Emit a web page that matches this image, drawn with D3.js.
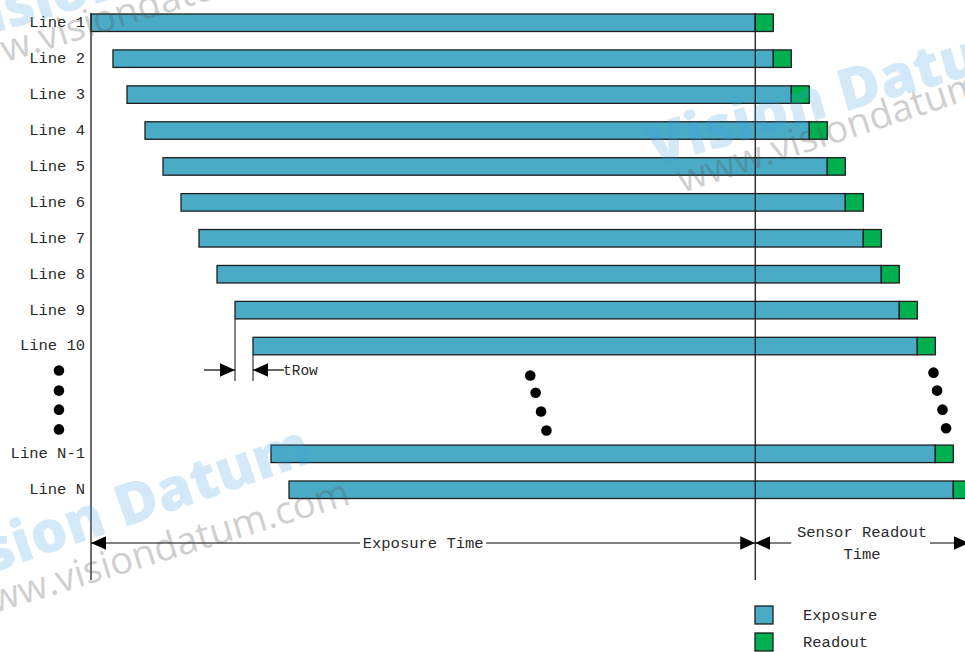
<!DOCTYPE html>
<html>
<head>
<meta charset="utf-8">
<script src="https://cdn.jsdelivr.net/npm/d3@7"></script>
<style>
  body { margin: 0; background: #fff; }
  svg { display: block; }
</style>
</head>
<body>
<svg id="chart"></svg>
<script>
// rows of the rolling shutter diagram (time unit = 1 tRow)
const lineLabels = ["Line 1", "Line 2", "Line 3", "Line 4", "Line 5", "Line 6", "Line 7", "Line 8", "Line 9", "Line 10", "Line N-1", "Line N"];
const rowIndex = [0, 1, 2, 3, 4, 5, 6, 7, 8, 9, 12, 13];
const exposureStart = [0, 1.22, 2, 3, 4, 5, 6, 7, 8, 9, 10, 11];
const readoutStart = [36.9, 37.9, 38.9, 39.9, 40.9, 41.9, 42.9, 43.9, 44.9, 45.9, 46.9, 47.9];
const readoutTime = 1;

// "more lines" dots: [time, row]
const dotsLeft = [[-1.78, 9.68], [-1.78, 10.24], [-1.78, 10.77], [-1.78, 11.32]];
const dotsMid = [[24.4, 9.82], [24.7, 10.3], [25.0, 10.82], [25.3, 11.35]];
const dotsRight = [[46.8, 9.74], [47.0, 10.24], [47.3, 10.77], [47.5, 11.29]];

const legendLabels = ["Exposure", "Readout"];

const exposureColor = "#4aabc6";
const readoutColor = "#00b050";
const ink = "#1e1e1e";
const font = "'Liberation Mono', 'DejaVu Sans Mono', monospace";

const W = 965, H = 652;
const svg = d3.select("#chart").attr("width", W).attr("height", H);

const xScale = d3.scaleLinear().domain([0, 48.55]).range([91, 965]);
const yScale = d3.scaleLinear().domain([0, 13]).range([14, 481]);
const barH = 17.5;

const rows = lineLabels.map((name, i) => ({
  name: name,
  row: rowIndex[i],
  start: exposureStart[i],
  readout: readoutStart[i]
}));

svg.append("defs").append("marker")
    .attr("id", "head")
    .attr("viewBox", "0 0 10 10")
    .attr("refX", 10).attr("refY", 5)
    .attr("markerWidth", 15).attr("markerHeight", 15)
    .attr("markerUnits", "userSpaceOnUse")
    .attr("orient", "auto-start-reverse")
    .append("path")
    .attr("d", "M0,0.5 L10,5 L0,9.5 Z")
    .attr("fill", "#000");

// bars
const bars = svg.append("g").attr("class", "bars");
bars.selectAll(".exposure")
  .data(rows)
  .join("rect")
    .attr("class", "exposure")
    .attr("x", d => xScale(d.start))
    .attr("y", d => yScale(d.row))
    .attr("width", d => xScale(d.readout) - xScale(d.start))
    .attr("height", barH)
    .attr("fill", exposureColor)
    .attr("stroke", ink)
    .attr("stroke-width", 1.3);

bars.selectAll(".readout")
  .data(rows)
  .join("rect")
    .attr("class", "readout")
    .attr("x", d => xScale(d.readout))
    .attr("y", d => yScale(d.row))
    .attr("width", d => xScale(d.readout + readoutTime) - xScale(d.readout))
    .attr("height", barH)
    .attr("fill", readoutColor)
    .attr("stroke", ink)
    .attr("stroke-width", 1.3);

// row labels
svg.append("g").selectAll("text")
  .data(rows)
  .join("text")
    .attr("x", 85)
    .attr("y", d => yScale(d.row) + barH / 2 - 1)
    .attr("dy", "0.35em")
    .attr("text-anchor", "end")
    .style("font-family", font)
    .style("font-size", "15.5px")
    .attr("fill", "#2a2a2a")
    .text(d => d.name);

// vertical reference lines
[0, readoutStart[0]].forEach(t => {
  svg.append("line")
      .attr("x1", xScale(t)).attr("x2", xScale(t))
      .attr("y1", 13).attr("y2", 580)
      .attr("stroke", ink)
      .attr("stroke-width", 1.3);
});

// dots
svg.append("g").selectAll("circle")
  .data(dotsLeft.concat(dotsMid, dotsRight))
  .join("circle")
    .attr("cx", d => xScale(d[0]))
    .attr("cy", d => yScale(d[1]) + barH / 2)
    .attr("r", 5.3)
    .attr("fill", "#000");

// tRow annotation
const t9 = xScale(exposureStart[8]), t10 = xScale(exposureStart[9]);
svg.append("line").attr("x1", t9).attr("x2", t9)
    .attr("y1", yScale(8) + barH).attr("y2", 381)
    .attr("stroke", "#444").attr("stroke-width", 1.3);
svg.append("line").attr("x1", t10).attr("x2", t10)
    .attr("y1", yScale(9) + barH).attr("y2", 381)
    .attr("stroke", "#444").attr("stroke-width", 1.3);
svg.append("line").attr("x1", t9 - 31).attr("x2", t9)
    .attr("y1", 370).attr("y2", 370)
    .attr("stroke", "#000").attr("stroke-width", 1.2)
    .attr("marker-end", "url(#head)");
svg.append("line").attr("x1", t10 + 31).attr("x2", t10)
    .attr("y1", 370).attr("y2", 370)
    .attr("stroke", "#000").attr("stroke-width", 1.2)
    .attr("marker-end", "url(#head)");
svg.append("text")
    .attr("x", t10 + 30).attr("y", 370).attr("dy", "0.35em")
    .style("font-family", font).style("font-size", "14.5px")
    .attr("fill", "#2a2a2a")
    .text("tRow");

// Exposure Time span
const yArrow = 543;
svg.append("line")
    .attr("x1", xScale(0)).attr("x2", xScale(readoutStart[0]))
    .attr("y1", yArrow).attr("y2", yArrow)
    .attr("stroke", "#000").attr("stroke-width", 1.2)
    .attr("marker-start", "url(#head)")
    .attr("marker-end", "url(#head)");
const expMid = (xScale(0) + xScale(readoutStart[0])) / 2;
svg.append("rect")
    .attr("x", expMid - 63).attr("y", yArrow - 9)
    .attr("width", 126).attr("height", 18)
    .attr("fill", "#fff");
svg.append("text")
    .attr("x", expMid).attr("y", yArrow).attr("dy", "0.35em")
    .attr("text-anchor", "middle")
    .style("font-family", font).style("font-size", "15.5px")
    .attr("fill", "#2a2a2a")
    .text("Exposure Time");

// Sensor Readout Time span
const rx = xScale(readoutStart[0]);
svg.append("line")
    .attr("x1", rx + 36).attr("x2", rx)
    .attr("y1", yArrow).attr("y2", yArrow)
    .attr("stroke", "#000").attr("stroke-width", 1.2)
    .attr("marker-end", "url(#head)");
svg.append("line")
    .attr("x1", 930).attr("x2", W + 4)
    .attr("y1", yArrow).attr("y2", yArrow)
    .attr("stroke", "#000").attr("stroke-width", 1.2)
    .attr("marker-end", "url(#head)");
svg.append("text")
    .attr("x", 862).attr("y", 532).attr("dy", "0.35em")
    .attr("text-anchor", "middle")
    .style("font-family", font).style("font-size", "15.5px")
    .attr("fill", "#2a2a2a")
    .text("Sensor Readout");
svg.append("text")
    .attr("x", 862).attr("y", 554).attr("dy", "0.35em")
    .attr("text-anchor", "middle")
    .style("font-family", font).style("font-size", "15.5px")
    .attr("fill", "#2a2a2a")
    .text("Time");

// legend
const legend = svg.append("g").attr("transform", "translate(755,606)");
legendLabels.forEach((label, i) => {
  legend.append("rect")
      .attr("x", 0).attr("y", i * 27)
      .attr("width", 18).attr("height", 18)
      .attr("fill", i === 0 ? exposureColor : readoutColor)
      .attr("stroke", ink).attr("stroke-width", 1.3);
  legend.append("text")
      .attr("x", 48).attr("y", i * 27 + 9).attr("dy", "0.35em")
      .style("font-family", font).style("font-size", "15.5px")
      .attr("fill", "#2a2a2a")
      .text(label);
});

// watermarks (cut by the picture edges, as in the source image)
const marks = [
  { text: "Vision Datum", x: 118, y: 508, rot: -19, size: 58, kind: "logo" },
  { text: "Vision Datum", x: 840, y: 92, rot: -16, size: 58, kind: "logo" },
  { text: "Vision Datum", x: 140, y: -30, rot: -16, size: 58, kind: "logo" },
  { text: "www.visiondatum.com", x: 155, y: 550, rot: -17, size: 38, kind: "url" },
  { text: "www.visiondatum.com", x: 870, y: 118, rot: -18, size: 38, kind: "url" },
  { text: "www.visiondatum.com", x: 138, y: 8, rot: -17, size: 38, kind: "url" }
];
svg.append("g").selectAll("text")
  .data(marks)
  .join("text")
    .attr("transform", d => `translate(${d.x},${d.y}) rotate(${d.rot})`)
    .attr("text-anchor", "middle")
    .attr("dy", "0.35em")
    .style("font-family", "'Open Sans', 'DejaVu Sans', sans-serif")
    .style("font-weight", d => d.kind === "logo" ? 800 : 400)
    .style("font-size", d => d.size + "px")
    .attr("fill", d => d.kind === "logo" ? "#3a9ee0" : "#555")
    .attr("opacity", d => d.kind === "logo" ? 0.22 : 0.28)
    .text(d => d.text);
</script>
</body>
</html>
